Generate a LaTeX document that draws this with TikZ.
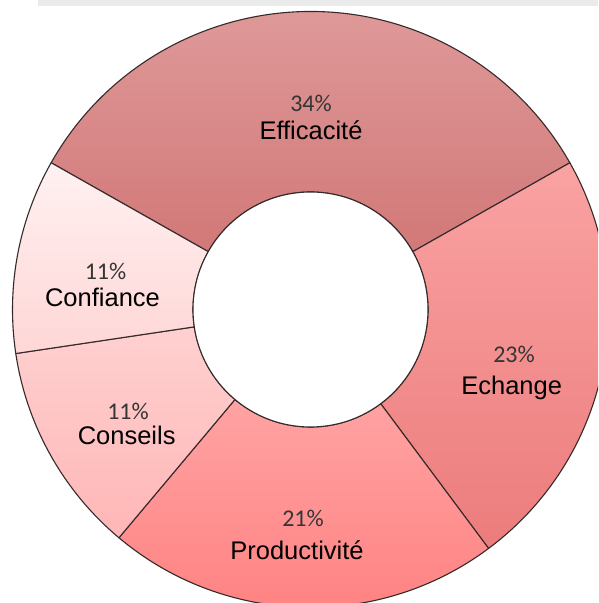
\documentclass[tikz,border=0pt]{standalone}
\usepackage{fontspec}
\newfontfamily\arialf{Liberation Sans}
\newfontfamily\calibf{Carlito}
\definecolor{bargray}{HTML}{EBEBEB}
\definecolor{edgec}{HTML}{352A2A}
\definecolor{pctc}{HTML}{353535}
\definecolor{effT}{HTML}{E19E9E}
\definecolor{effB}{HTML}{D27878}
\definecolor{echT}{HTML}{FAA2A2}
\definecolor{echB}{HTML}{EC7C7C}
\definecolor{proT}{HTML}{FFA3A3}
\definecolor{proB}{HTML}{FF7F7F}
\definecolor{conT}{HTML}{FFD0D0}
\definecolor{conB}{HTML}{FFB6B6}
\definecolor{cfT}{HTML}{FFF1F1}
\definecolor{cfB}{HTML}{FFD6D6}
\tikzset{
  seg/.style={draw=edgec, line width=1.1pt, line join=round},
  pct/.style={font=\calibf\fontsize{24}{28}\selectfont, text=pctc, anchor=base, inner sep=0pt},
  lbl/.style={font=\arialf\fontsize{25.5}{30}\selectfont, text=black, anchor=base, inner sep=0pt}
}
\newcommand{\donutseg}[4]{%
  \path[seg, top color=#3, bottom color=#4, shift={(310.5,293.5)}]
    (#1:298) arc[start angle=#1, end angle=#2, radius=298]
    -- (#2:117.5) arc[start angle=#2, end angle=#1, radius=117.5] -- cycle;}
\begin{document}
\begin{tikzpicture}[x=1pt,y=1pt]
\useasboundingbox (0,0) rectangle (598,603);
\clip (0,0) rectangle (598,603);
\fill[white] (0,0) rectangle (598,603);
\fill[bargray] (38,596.5) rectangle (598,603);
\coordinate (c) at (310.5,293.5);
\donutseg{150.5}{29.5}{effT}{effB}
\donutseg{29.5}{-53.3}{echT}{echB}
\donutseg{-53.3}{-130}{proT}{proB}
\donutseg{-130}{-171.5}{conT}{conB}
\donutseg{-171.5}{-209.5}{cfT}{cfB}
\draw[edgec, line width=1.1pt, fill=white] (c) circle[radius=117.5];
\node[pct] (p1) at (311,491.3) {34\%};
\node[lbl] (l1) at (311,463) {Efficacité};
\node[pct] (p2) at (514,240.3) {23\%};
\node[lbl] (l2) at (511.7,208) {Echange};
\node[pct] (p3) at (303,76.3) {21\%};
\node[lbl] (l3) at (297,43) {Productivité};
\node[pct] (p4) at (128,183) {11\%};
\node[lbl] (l4) at (126.7,158) {Conseils};
\node[pct] (p5) at (105.5,323) {11\%};
\node[lbl] (l5) at (102.5,296.3) {Confiance};
\end{tikzpicture}
\end{document}
